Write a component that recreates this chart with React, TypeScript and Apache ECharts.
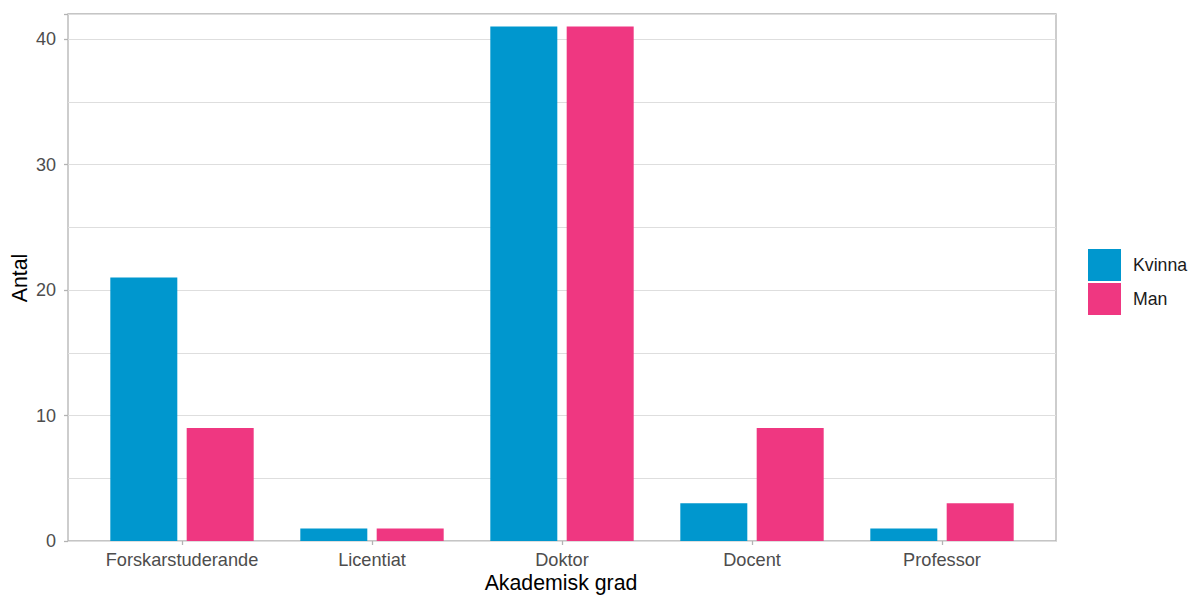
import React, { useEffect, useRef } from "react";
import * as echarts from "echarts";

const categories = ["Forskarstuderande", "Licentiat", "Doktor", "Docent", "Professor"];
const kvinna = [21, 1, 41, 3, 1];
const man = [9, 1, 41, 9, 3];
const seriesNames = ["Kvinna", "Man"];
const yMax = 42;

const FONT = "'Liberation Sans', Arial, sans-serif";

export default function App() {
  const ref = useRef<HTMLDivElement>(null);
  useEffect(() => {
    if (!ref.current) return;
    const chart = echarts.init(ref.current, null, { renderer: "svg" });
    const outer = { left: 68, right: 141, top: 14, bottom: 55 };
    const band = (1197 - outer.left - outer.right) / 5.2;
    chart.setOption({
      animation: false,
      backgroundColor: "#ffffff",
      textStyle: { fontFamily: FONT },
      grid: [
        { ...outer, show: true, borderColor: "#B3B3B3", borderWidth: 1.3, backgroundColor: "transparent", containLabel: false },
        { left: outer.left + band * 0.1, right: outer.right + band * 0.1, top: outer.top, bottom: outer.bottom, containLabel: false },
      ],
      xAxis: [
        { type: "value", gridIndex: 0, min: 0, max: 1, show: false },
        {
          type: "category",
          gridIndex: 1,
          data: categories,
          axisLine: { show: false },
          axisTick: { show: true, alignWithLabel: true, interval: 0, length: 4, lineStyle: { color: "#B3B3B3", width: 1.3 } },
          axisLabel: { color: "#4D4D4D", fontSize: 18.2, margin: 10, interval: 0, hideOverlap: false, fontFamily: FONT },
          splitLine: { show: false },
        },
      ],
      yAxis: [
        {
          type: "value",
          gridIndex: 0,
          position: "left",
          min: 0,
          max: yMax,
          interval: 5,
          axisLine: { show: false },
          axisTick: { show: false },
          axisLabel: { show: false },
          splitLine: { show: true, lineStyle: { color: "#DEDEDE", width: 1.2 } },
        },
        {
          type: "value",
          gridIndex: 0,
          position: "left",
          offset: 0,
          min: 0,
          max: yMax,
          interval: 10,
          axisLine: { show: false },
          axisTick: { show: true, length: 4, lineStyle: { color: "#B3B3B3", width: 1.3 } },
          axisLabel: {
            color: "#4D4D4D",
            fontSize: 18,
            margin: 12,
            fontFamily: FONT,
            formatter: (v: number) => (v % 10 === 0 ? String(v) : ""),
          },
          splitLine: { show: false },
        },
        { type: "value", gridIndex: 1, min: 0, max: yMax, show: false },
      ],
      legend: {
        orient: "vertical",
        left: 1083,
        top: 244,
        itemWidth: 33,
        itemHeight: 32,
        itemGap: 2,
        icon: "rect",
        data: seriesNames,
        textStyle: { fontSize: 17.7, color: "#1A1A1A", fontFamily: FONT, padding: [0, 0, 0, 7] },
      },
      series: [
        {
          name: seriesNames[0],
          type: "bar",
          xAxisIndex: 1,
          yAxisIndex: 2,
          data: kvinna,
          barWidth: 67,
          barGap: "14%",
          itemStyle: { color: "#0097CE" },
        },
        {
          name: seriesNames[1],
          type: "bar",
          xAxisIndex: 1,
          yAxisIndex: 2,
          data: man,
          barWidth: 67,
          barGap: "14%",
          itemStyle: { color: "#EF3781" },
        },
      ],
      graphic: [
        {
          type: "text",
          x: 20,
          y: 278,
          rotation: Math.PI / 2,
          style: { text: "Antal", fontSize: 21.3, fill: "#000", fontFamily: FONT, align: "center", verticalAlign: "middle" },
        },
        {
          type: "text",
          x: 561,
          y: 583,
          style: { text: "Akademisk grad", fontSize: 21.3, fill: "#000", fontFamily: FONT, align: "center", verticalAlign: "middle" },
        },
      ],
    });
    return () => chart.dispose();
  }, []);
  return <div ref={ref} style={{ width: 1197, height: 596, position: "absolute", left: 0, top: 0 }} />;
}
